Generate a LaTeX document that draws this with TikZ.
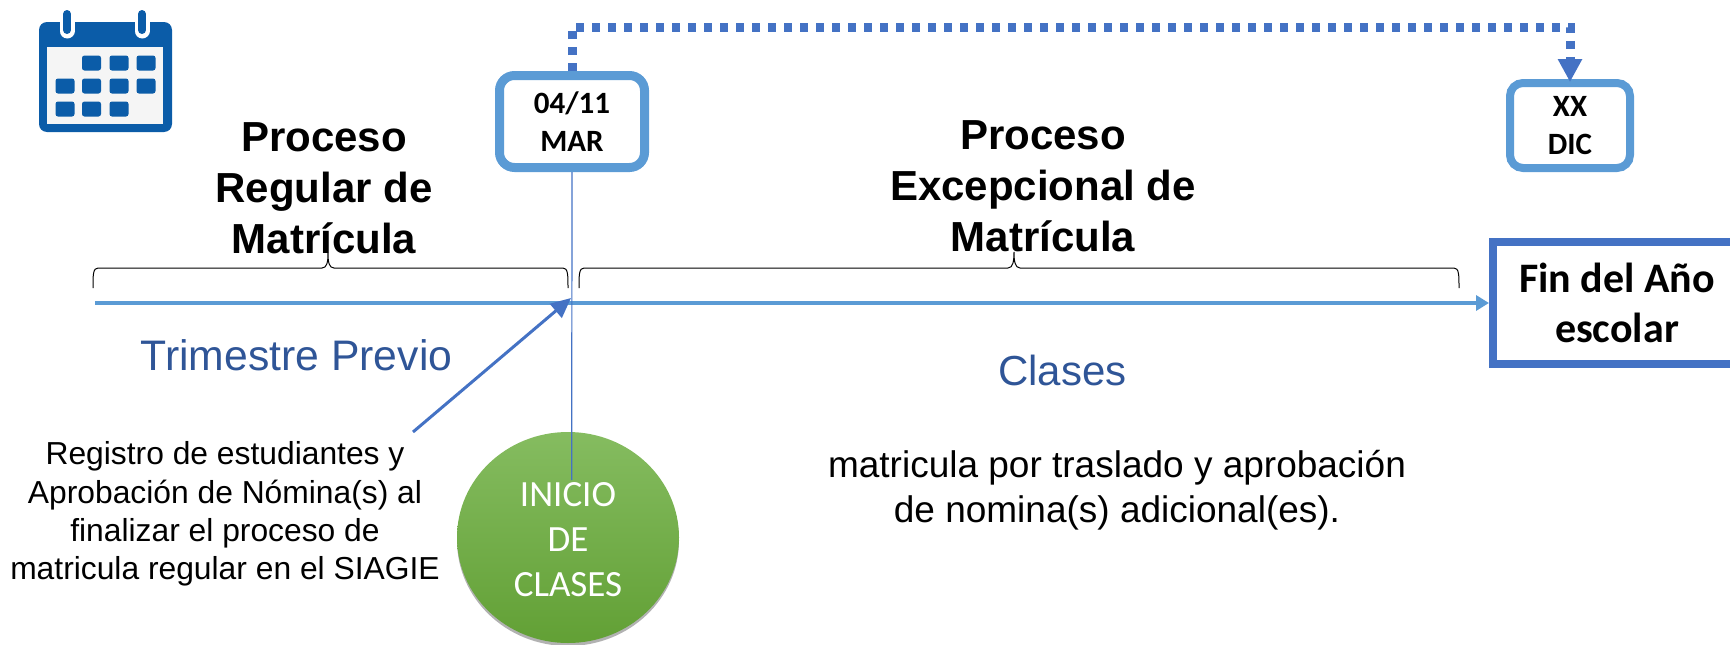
\documentclass[tikz,border=0pt]{standalone}
\usepackage{fontspec}
\setmainfont{Liberation Sans}
\newfontfamily\carl{Carlito}
\usetikzlibrary{arrows.meta,shapes.geometric,shadows}
\definecolor{lblue}{HTML}{5B9BD5}
\definecolor{mblue}{HTML}{4472C4}
\definecolor{dblue}{HTML}{2F5597}
\definecolor{calblue}{HTML}{0B5CA8}
\definecolor{gtop}{HTML}{85BC60}
\definecolor{gbot}{HTML}{62A035}
\newcommand{\fs}[1]{\fontsize{#1}{#1}\selectfont}
\tikzset{
  x=1pt,y=-1pt,
  datebox/.style={draw=lblue,rounded corners=15pt,fill=white,inner sep=0pt,align=center,font=\carl\bfseries\fontsize{31}{38}\selectfont},
  titletxt/.style={align=center,inner sep=0pt,font=\bfseries\fontsize{42}{51}\selectfont},
  bluetxt/.style={text=dblue,inner sep=0pt,font=\fs{42.7}},
  bodytxt/.style={align=center,inner sep=0pt},
  brace/.style={draw=black,line width=1pt},
  cell/.style={fill=calblue,rounded corners=2.5pt},
}
\begin{document}
\begin{tikzpicture}
\useasboundingbox (0,0) rectangle (1730,645);
\clip (0,0) rectangle (1730,645);
% calendar
\fill[calblue,rounded corners=8pt] (39,22) rectangle (172,132);
\fill[black!4] (47,47) rectangle (163,124);
\foreach \cx/\cy in {91.5/63,119/63,146/63,65/86,91.5/86,119/86,146/86,65/109,91.5/109,119/109}{
  \fill[cell] (\cx-9.5,\cy-7.5) rectangle (\cx+9.5,\cy+7.5);
}
\foreach \cx in {67,142}{
  \draw[white,line width=15pt,line cap=round] (\cx,17) -- (\cx,31);
  \draw[calblue,line width=8pt,line cap=round] (\cx,14) -- (\cx,30);
}
% circle
\node[ellipse,minimum width=222pt,minimum height=211pt,inner sep=0pt,draw=none,
  top color=gtop,bottom color=gbot,
  drop shadow={shadow xshift=0pt,shadow yshift=-3pt,opacity=.3,fill=black},
  text=white,align=center,font=\carl\fontsize{37}{45}\selectfont] (inicio) at (568,537.5) {\rule{0pt}{28pt}INICIO\\DE\\CLASES};
\coordinate (vend) at (571.7,480);
% boxes
\node[datebox,line width=9pt,minimum width=145pt,minimum height=92pt] (mar) at (572,121.5) {04/11\\MAR};
\node[datebox,line width=8pt,minimum width=120pt,minimum height=85pt,rounded corners=13pt] (dic) at (1570,125.5) {XX\\DIC};
\node[draw=mblue,line width=8pt,fill=white,minimum width=248pt,minimum height=122pt,inner sep=0pt,align=center,
  font=\carl\bfseries\fontsize{42}{50}\selectfont] (fin) at (1617,303) {Fin del Año\\escolar};
% timeline
\coordinate (tstart) at (95,303);
\draw[lblue,line width=4pt,-{Triangle[length=13pt,width=15pt]}] (tstart) -- (fin.west);
% vertical marker
\draw[mblue,line width=1.2pt] (mar.south) -- (vend);
% dotted link
\draw[mblue,line width=9pt,dash pattern=on 8pt off 8pt,-{Triangle[length=23pt,width=23pt]}]
  (mar.north) -- ++(0,-44) -| ([yshift=-3pt]dic.north);
% braces
\draw[brace] (93,288) .. controls (93,275) and (93,268) .. (98,268) -- (322,268) .. controls (327,268) and (328,262) .. (328,253) .. controls (328,262) and (329,268) .. (334,268) -- (563,268) .. controls (568,268) and (568,275) .. (568,288);
\draw[brace] (579,288) .. controls (579,275) and (579,268) .. (584,268) -- (1008,268) .. controls (1013,268) and (1014,261) .. (1014,252) .. controls (1014,261) and (1015,268) .. (1020,268) -- (1454,268) .. controls (1459,268) and (1459,275) .. (1459,288);
% titles
\node[titletxt] (t1) at (324,188) {Proceso\\Regular de\\Matrícula};
\node[titletxt] (t2) at (1043,186.5) {Proceso\\Excepcional de\\Matrícula};
% blue labels
\node[bluetxt,anchor=base] (tp) at (296.5,370) {Trimestre Previo};
\node[bluetxt,anchor=base,font=\fs{42}] (cl) at (1062.5,385) {Clases};
% body text
\node[bodytxt,font=\fontsize{31.8}{38.3}\selectfont] (reg) at (225,514) {Registro de estudiantes y\\Aprobación de Nómina(s) al\\finalizar el proceso de\\matricula regular en el SIAGIE};
\node[bodytxt,font=\fontsize{37}{45.3}\selectfont] (mat) at (1117,490.5) {matricula por traslado y aprobación\\de nomina(s) adicional(es).};
% diagonal arrow
\coordinate (dstart) at (413,432);
\coordinate (dend) at (571,298);
\draw[mblue,line width=3pt,-{Triangle[length=20pt,width=18pt]}] (dstart) -- (dend);
\end{tikzpicture}
\end{document}
